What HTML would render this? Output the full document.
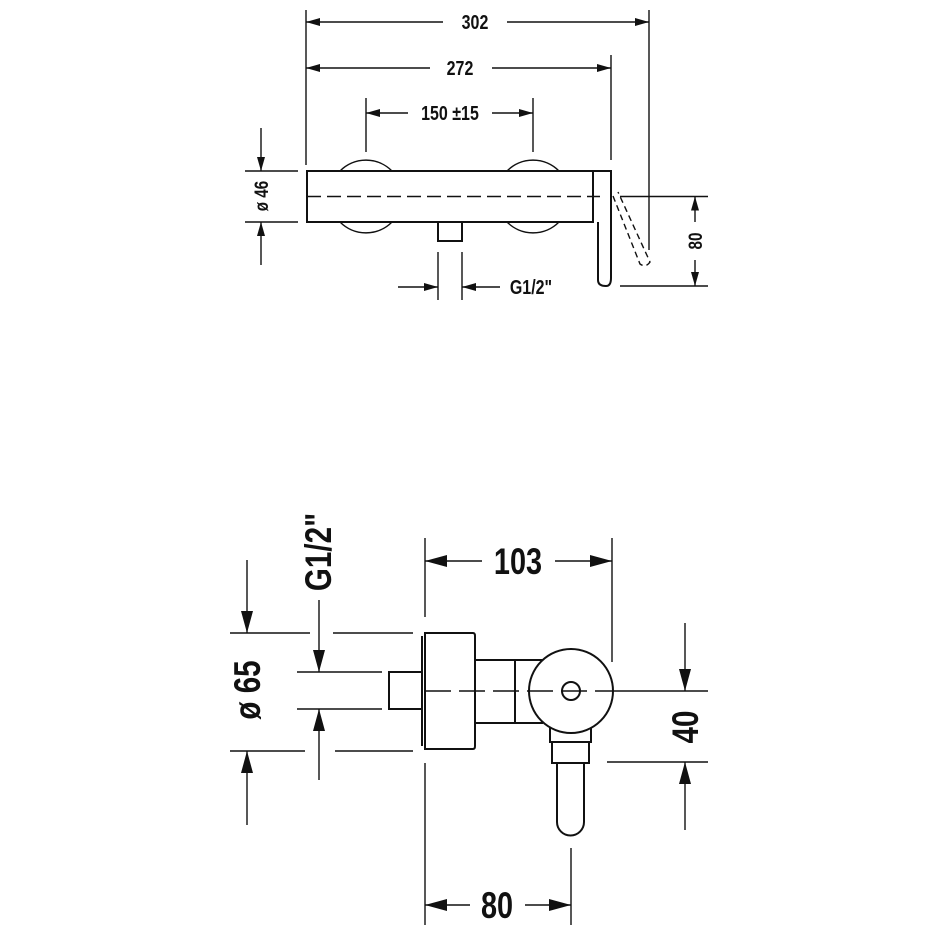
<!DOCTYPE html>
<html><head><meta charset="utf-8"><style>
html,body{margin:0;padding:0;background:#fff;}
svg{display:block;}
text{font-family:"Liberation Sans",sans-serif;font-weight:bold;fill:#111;}
</style></head><body>
<svg width="938" height="938" viewBox="0 0 938 938" xmlns="http://www.w3.org/2000/svg">
<defs>
<marker id="a" viewBox="0 0 14 8" refX="14" refY="4" markerWidth="14" markerHeight="8" markerUnits="userSpaceOnUse" orient="auto"><path d="M0,0 L14,4 L0,8 z" fill="#111"/></marker>
<marker id="b" viewBox="0 0 22 12" refX="22" refY="6" markerWidth="22" markerHeight="12" markerUnits="userSpaceOnUse" orient="auto"><path d="M0,0 L22,6 L0,12 z" fill="#111"/></marker>
</defs>
<g stroke="#111" fill="none" stroke-width="1.4">
<line x1="306" y1="10" x2="306" y2="165"/>
<line x1="649" y1="10" x2="649" y2="250"/>
<line x1="611" y1="55" x2="611" y2="160"/>
<line x1="366" y1="98" x2="366" y2="152"/>
<line x1="533" y1="98" x2="533" y2="152"/>
<line x1="443" y1="22" x2="306" y2="22" marker-end="url(#a)"/>
<line x1="507" y1="22" x2="649" y2="22" marker-end="url(#a)"/>
<line x1="430" y1="68" x2="306" y2="68" marker-end="url(#a)"/>
<line x1="492" y1="68" x2="611" y2="68" marker-end="url(#a)"/>
<line x1="408" y1="113" x2="366" y2="113" marker-end="url(#a)"/>
<line x1="492" y1="113" x2="533" y2="113" marker-end="url(#a)"/>
<path d="M340,171 A36.5,36.5 0 0 1 392,171"/>
<path d="M340,222 A36.5,36.5 0 0 0 392,222"/>
<path d="M507,171 A36.5,36.5 0 0 1 559,171"/>
<path d="M507,222 A36.5,36.5 0 0 0 559,222"/>
<rect x="307" y="171" width="286" height="51" stroke-width="2"/>
<path d="M593,171 L611,171 L611,278 Q611,286 606,286 Q598,286 598,280 L598,222" stroke-width="2"/>
<rect x="438" y="222" width="24" height="19" stroke-width="2"/>
<line x1="307" y1="196.5" x2="600" y2="196.5" stroke-dasharray="14,6"/>
<path d="M613,196 L640,264 Q646,268 650,262 L618,192" stroke-dasharray="6,4"/>
<line x1="245" y1="171" x2="298" y2="171"/>
<line x1="245" y1="222" x2="298" y2="222"/>
<line x1="261" y1="128" x2="261" y2="171" marker-end="url(#a)"/>
<line x1="261" y1="265" x2="261" y2="222" marker-end="url(#a)"/>
<line x1="620" y1="196.5" x2="708" y2="196.5"/>
<line x1="620" y1="286" x2="708" y2="286"/>
<line x1="695" y1="222" x2="695" y2="196.5" marker-end="url(#a)"/>
<line x1="695" y1="260" x2="695" y2="286" marker-end="url(#a)"/>
<line x1="438" y1="252" x2="438" y2="300"/>
<line x1="462" y1="252" x2="462" y2="300"/>
<line x1="398" y1="287" x2="438" y2="287" marker-end="url(#a)"/>
<line x1="500" y1="287" x2="462" y2="287" marker-end="url(#a)"/>

<line x1="230" y1="633" x2="310" y2="633"/>
<line x1="333" y1="633" x2="413" y2="633"/>
<line x1="230" y1="751" x2="305" y2="751"/>
<line x1="335" y1="751" x2="413" y2="751"/>
<line x1="297" y1="672" x2="382" y2="672"/>
<line x1="297" y1="709" x2="382" y2="709"/>
<line x1="247" y1="560" x2="247" y2="633" marker-end="url(#b)"/>
<line x1="247" y1="825" x2="247" y2="751" marker-end="url(#b)"/>
<line x1="319" y1="600" x2="319" y2="672" marker-end="url(#b)"/>
<line x1="319" y1="780" x2="319" y2="709" marker-end="url(#b)"/>
<line x1="425" y1="538" x2="425" y2="617"/>
<line x1="425" y1="763" x2="425" y2="925"/>
<line x1="612" y1="538" x2="612" y2="662"/>
<line x1="571" y1="848" x2="571" y2="925"/>
<line x1="482" y1="561" x2="425" y2="561" marker-end="url(#b)"/>
<line x1="555" y1="561" x2="612" y2="561" marker-end="url(#b)"/>
<line x1="470" y1="905" x2="425" y2="905" marker-end="url(#b)"/>
<line x1="525" y1="905" x2="571" y2="905" marker-end="url(#b)"/>
<line x1="607" y1="691" x2="708" y2="691"/>
<line x1="607" y1="762" x2="708" y2="762"/>
<line x1="685" y1="623" x2="685" y2="691" marker-end="url(#b)"/>
<line x1="685" y1="830" x2="685" y2="762" marker-end="url(#b)"/>
<g stroke-width="2">
<rect x="389" y="672" width="33" height="37"/>
<line x1="422" y1="636" x2="422" y2="746"/>
<path d="M425,633 L473,633 Q475,633 475,636 L475,746 Q475,749 473,749 L425,749 Z"/>
<rect x="475" y="660" width="67" height="63"/>
<line x1="515" y1="660" x2="515" y2="723"/>
<path d="M550,724 L550,742 L591,742 L591,724"/>
<rect x="552" y="742" width="37" height="21"/>
<path d="M557,763 L557,822 A13.5,13.5 0 0 0 584,822 L584,763"/>
<circle cx="571" cy="691" r="42" fill="#fff"/>
<circle cx="571" cy="691" r="9"/>
</g>
<line x1="425" y1="691" x2="614" y2="691" stroke-dasharray="26,8"/>
</g>
<g>
<text x="475" y="29" font-size="20" text-anchor="middle" transform="translate(475,0) scale(0.8,1) translate(-475,0)">302</text>
<text x="460" y="75" font-size="20" text-anchor="middle" transform="translate(460,0) scale(0.8,1) translate(-460,0)">272</text>
<text x="450" y="120" font-size="20" text-anchor="middle" transform="translate(450,0) scale(0.8,1) translate(-450,0)">150 ±15</text>
<text x="531" y="294" font-size="20" text-anchor="middle" transform="translate(531,0) scale(0.8,1) translate(-531,0)">G1/2"</text>
<text transform="translate(268,196) rotate(-90) scale(0.8,1)" font-size="19" text-anchor="middle">ø 46</text>
<text transform="translate(702,241) rotate(-90) scale(0.8,1)" font-size="19" text-anchor="middle">80</text>
<text x="518" y="574" font-size="37" text-anchor="middle" transform="translate(518,0) scale(0.78,1) translate(-518,0)">103</text>
<text x="497" y="918" font-size="37" text-anchor="middle" transform="translate(497,0) scale(0.78,1) translate(-497,0)">80</text>
<text transform="translate(260,690) rotate(-90) scale(0.8,1)" font-size="37" text-anchor="middle">ø 65</text>
<text transform="translate(331,552) rotate(-90) scale(0.8,1)" font-size="37" text-anchor="middle">G1/2"</text>
<text transform="translate(698,727) rotate(-90) scale(0.8,1)" font-size="37" text-anchor="middle">40</text>
</g>
</svg>
</body></html>
